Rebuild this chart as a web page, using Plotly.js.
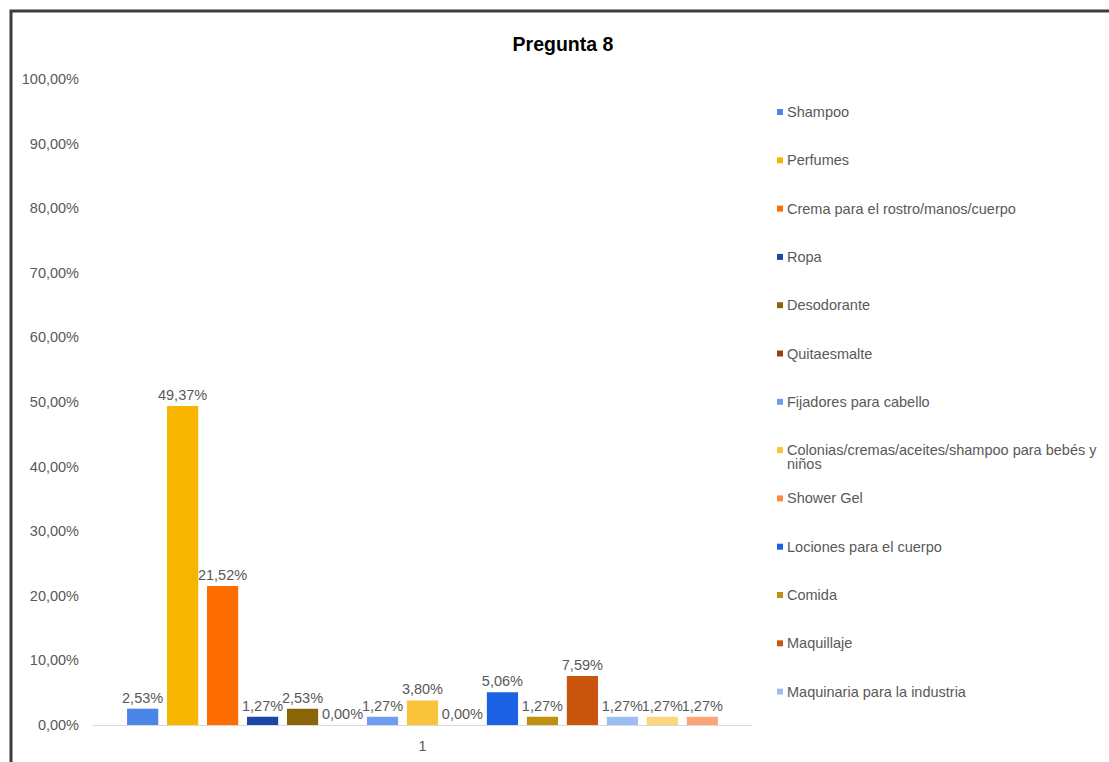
<!DOCTYPE html>
<html>
<head>
<meta charset="utf-8">
<script src="https://cdn.plot.ly/plotly-3.0.1.min.js"></script>
<style>
html,body{margin:0;padding:0;background:#fff;}
#chart{width:1109px;height:762px;}
</style>
</head>
<body>
<div id="chart"></div>
<script>
// ---- data ----
var categoryLabel = ["1"];
var seriesNames = [
  "Shampoo",
  "Perfumes",
  "Crema para el rostro/manos/cuerpo",
  "Ropa",
  "Desodorante",
  "Quitaesmalte",
  "Fijadores para cabello",
  "Colonias/cremas/aceites/shampoo para bebés y niños",
  "Shower Gel",
  "Lociones para el cuerpo",
  "Comida",
  "Maquillaje",
  "Maquinaria para la industria",
  "Serie 14",
  "Serie 15"
];
var legendLabels = [
  "Shampoo",
  "Perfumes",
  "Crema para el rostro/manos/cuerpo",
  "Ropa",
  "Desodorante",
  "Quitaesmalte",
  "Fijadores para cabello",
  "Colonias/cremas/aceites/shampoo para bebés y|niños",
  "Shower Gel",
  "Lociones para el cuerpo",
  "Comida",
  "Maquillaje",
  "Maquinaria para la industria"
];
var seriesValues = [2.53, 49.37, 21.52, 1.27, 2.53, 0.00, 1.27, 3.80, 0.00, 5.06, 1.27, 7.59, 1.27, 1.27, 1.27];
var seriesColors = ["#4a86e8", "#f7b500", "#ff6d01", "#1c46a8", "#8a6508", "#9c3d12", "#6f9ef0", "#f9c33c",
                    "#ff8a3f", "#1a62e3", "#c0900e", "#c9560c", "#9bbdf6", "#fdd57a", "#fca477"];
var yTickValues = [0, 10, 20, 30, 40, 50, 60, 70, 80, 90, 100];

function pct(v){ return v.toFixed(2).replace(".", ",") + "%"; }

// ---- geometry helpers (pixel -> paper) ----
var W = 1109, H = 762;
var L = 93, R = 752, T = 79, B = 725;
function px(p){ return (p - L) / (R - L); }
function py(p){ return (B - p) / (B - T); }

var grey = "#595959";
var fontFam = "Liberation Sans, Arial, sans-serif";
var fs = 14.5;

var traces = seriesNames.map(function(n, i){
  return {
    type: "bar",
    name: n,
    x: categoryLabel,
    y: [seriesValues[i]],
    marker: {color: seriesColors[i]},
    text: [pct(seriesValues[i])],
    textposition: "outside",
    textfont: {family: fontFam, size: fs, color: grey},
    constraintext: "none",
    cliponaxis: false,
    hovertemplate: n + ": %{y:.2f}%<extra></extra>"
  };
});

var annotations = [];
var shapes = [];
var legY0 = 112, legStep = 48.3;
legendLabels.forEach(function(lbl, i){
  var yc = legY0 + legStep * i;
  shapes.push({
    type: "rect", xref: "paper", yref: "paper",
    x0: px(777), x1: px(783), y0: py(yc + 3), y1: py(yc - 3),
    fillcolor: seriesColors[i], line: {width: 0}
  });
  lbl.split("|").forEach(function(line, k){
    annotations.push({
      xref: "paper", yref: "paper",
      x: px(785), y: py(yc + k * 14),
      xanchor: "left", yanchor: "middle",
      text: line, showarrow: false,
      font: {family: fontFam, size: fs, color: grey}
    });
  });
});

// outer frame
shapes.push({
  type: "rect", xref: "paper", yref: "paper",
  x0: px(11), x1: px(1300), y0: py(900), y1: py(11),
  line: {color: "#3c3c3c", width: 3}, fillcolor: "rgba(0,0,0,0)"
});

var layout = {
  width: W, height: H,
  margin: {l: L, r: W - R, t: T, b: H - B, pad: 0},
  paper_bgcolor: "#ffffff",
  plot_bgcolor: "#ffffff",
  separators: ",.",
  showlegend: false,
  barmode: "group",
  bargap: 0.09,
  bargroupgap: 0.22,
  title: {
    text: "Pregunta 8",
    font: {family: fontFam, size: 19.5, color: "#000000", weight: "bold"},
    x: 563 / W, xref: "container", xanchor: "center",
    y: 1 - 44 / H, yref: "container", yanchor: "middle"
  },
  xaxis: {
    type: "category",
    showgrid: false,
    zeroline: false,
    showline: true,
    linecolor: "#d9d9d9",
    linewidth: 1,
    ticks: "",
    ticklabelstandoff: 8,
    tickfont: {family: fontFam, size: fs, color: grey}
  },
  yaxis: {
    range: [0, 100],
    tickmode: "array",
    tickvals: yTickValues,
    ticktext: yTickValues.map(pct),
    showgrid: false,
    zeroline: false,
    showline: false,
    ticks: "",
    ticklabelstandoff: 13,
    tickfont: {family: fontFam, size: fs, color: grey}
  },
  shapes: shapes,
  annotations: annotations,
  font: {family: fontFam, color: grey}
};

Plotly.newPlot("chart", traces, layout, {displayModeBar: false, responsive: false});
</script>
</body>
</html>
